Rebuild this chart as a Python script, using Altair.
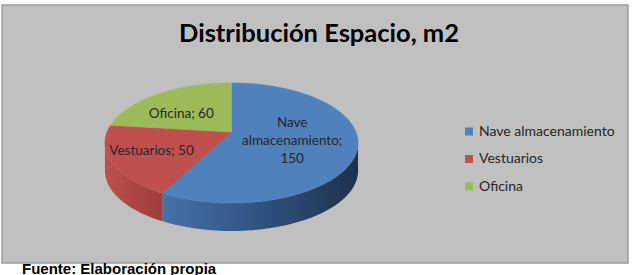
import altair as alt
import pandas as pd

# ---- data ----
categories = ["Nave almacenamiento", "Vestuarios", "Oficina"]
values = [150, 50, 60]
title_text = "Distribución Espacio, m2"
source_text = "Fuente: Elaboración propia"

top_colors = ["#4f81bd", "#c0504d", "#9bbb59"]
wall_gradients = [
    ["#4472aa", "#34598a", "#1d314c"],
    ["#bf514d", "#b14744", "#9c3e3b"],
    ["#8aa84c", "#7d9944", "#6d863b"],
]

def make_label(c, v):
    s = f"{c}; {v}"
    return "\n".join(s.split(" ")) if len(s) > 16 else s

df = pd.DataFrame({
    "idx": list(range(len(categories))),
    "category": categories,
    "value": values,
    "label": [make_label(c, v) for c, v in zip(categories, values)],
})

# ---- projection geometry (layout) ----
CX, CY, RX, RY, P, D = 231.5, 132.0, 124.4, 58.0, 0.183, 28.0
W, H = 633, 275
FONT = "Lato"
LINE_H = 18

xs = alt.X("X:Q", scale=alt.Scale(domain=[0, W], range=[0, W], nice=False, zero=False), axis=None)
ys = alt.Y("Y:Q", scale=alt.Scale(domain=[0, H], range=[0, H], nice=False, zero=False), axis=None)

base = (
    alt.Chart(df)
    .transform_joinaggregate(total="sum(value)")
    .transform_window(cum="sum(value)", sort=[alt.SortField("idx")], frame=[None, 0])
    .transform_calculate(
        a0="2*PI*(datum.cum-datum.value)/datum.total",
        a1="2*PI*datum.cum/datum.total",
    )
)

proj = dict(
    X=f"{CX} + {RX}*datum.u/(1-{P}*datum.v)",
    Y=f"{CY} + {RY}*datum.v/(1-{P}*datum.v) + datum.off",
)

fill_scale = alt.Scale(domain=categories, range=top_colors)

# top faces
N = 61
top = (
    base.transform_calculate(ks=f"sequence(0, {N})")
    .transform_flatten(["ks"])
    .transform_calculate(
        t=f"(datum.ks-1)/{N-2}",
        r="datum.ks==0 ? 0 : 1",
        off="0",
    )
    .transform_calculate(a="datum.a0 + datum.t*(datum.a1-datum.a0)")
    .transform_calculate(u="datum.r*sin(datum.a)", v="-datum.r*cos(datum.a)")
    .transform_calculate(**proj)
    .mark_line(interpolate="linear-closed", strokeWidth=0.6)
    .encode(
        x=xs, y=ys,
        fill=alt.Fill("category:N", scale=fill_scale, legend=alt.Legend(
            title=None, orient="none", legendX=462, legendY=124.5,
            symbolType="square", symbolSize=64, symbolStrokeWidth=0,
            labelFont=FONT, labelFontSize=14, labelColor="#262626",
            rowPadding=13.5, padding=0, labelOffset=3,
        )),
        stroke=alt.Stroke("category:N", scale=fill_scale, legend=None),
        order=alt.Order("ks:Q"),
    )
)

# side walls (front visible arc only)
M = 40
walls = []
for cat, stops in zip(categories, wall_gradients):
    grad = alt.LinearGradient(
        gradient="linear", x1=0, x2=1, y1=0, y2=0,
        stops=[alt.GradientStop(offset=0, color=stops[0]),
               alt.GradientStop(offset=0.4, color=stops[1]),
               alt.GradientStop(offset=1, color=stops[2])],
    )
    w = (
        base.transform_filter(alt.datum.category == cat)
        .transform_calculate(
            s=f"max(datum.a0, acos(-{P}))",
            e=f"min(datum.a1, 2*PI - acos(-{P}))",
        )
        .transform_filter("datum.e > datum.s")
        .transform_calculate(ks=f"sequence(0, {2*M})")
        .transform_flatten(["ks"])
        .transform_calculate(
            t=f"datum.ks < {M} ? datum.ks/{M-1} : ({2*M-1}-datum.ks)/{M-1}",
            off=f"datum.ks < {M} ? 0 : {D}",
        )
        .transform_calculate(a="datum.s + datum.t*(datum.e-datum.s)")
        .transform_calculate(u="sin(datum.a)", v="-cos(datum.a)")
        .transform_calculate(**proj)
        .mark_line(interpolate="linear-closed", fill=grad, strokeWidth=0)
        .encode(x=xs, y=ys, order=alt.Order("ks:Q"))
    )
    walls.append(w)

# data labels: bigger slices get labels closer to the centre
labels = (
    base.transform_calculate(
        m="(datum.a0+datum.a1)/2",
        lr="0.78 - 0.5*datum.value/datum.total",
        nl="length(split(datum.label, '\\n'))",
    )
    .transform_calculate(
        u="datum.lr*sin(datum.m)", v="-datum.lr*cos(datum.m)",
        off=f"-(datum.nl-1)*{LINE_H}/2",
    )
    .transform_calculate(
        X=f"{CX} + {RX}*datum.u/(1-{P}*datum.v)",
        Y=f"{CY} + 3 + 0.8*{RY}*datum.v/(1-{P}*datum.v) + datum.off",
    )
    .mark_text(font=FONT, fontSize=13.5, color="#262626", lineBreak="\n",
               lineHeight=LINE_H, align="center", baseline="middle")
    .encode(x=xs, y=ys, text="label:N")
)

one = pd.DataFrame({"k": [0]})
box = alt.Chart(one).mark_rect(fill="#c0c0c0", stroke="#9c9c9c", strokeWidth=1.5).encode(
    x=alt.value(2), x2=alt.value(628), y=alt.value(5), y2=alt.value(263)
)
title = alt.Chart(one).mark_text(font=FONT, fontSize=25.5, fontWeight="bold", color="#000000",
                                 align="center", baseline="alphabetic").encode(
    x=alt.value(319), y=alt.value(42), text=alt.value(title_text)
)
source = alt.Chart(one).mark_text(font="Liberation Sans", fontSize=15, fontWeight="bold",
                                  color="#000000", align="left", baseline="alphabetic").encode(
    x=alt.value(22), y=alt.value(273.5), text=alt.value(source_text)
)

chart = alt.layer(box, title, *walls, top, labels, source).properties(
    width=W, height=H, padding=0, autosize=alt.AutoSizeParams(type="none"),
    background="#ffffff",
).configure_view(stroke=None)

chart.save("out.html", embed_options={"renderer": "svg", "actions": False})
